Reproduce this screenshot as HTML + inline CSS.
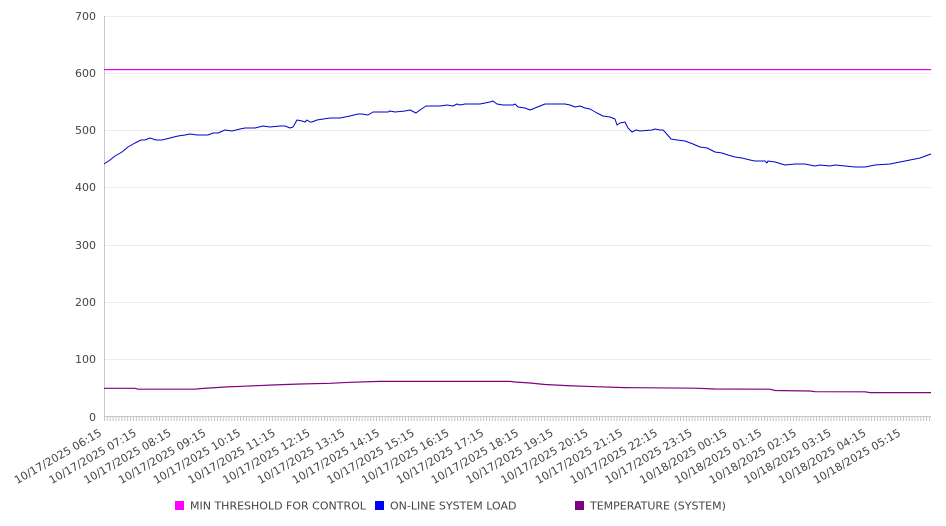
<!DOCTYPE html>
<html><head><meta charset="utf-8"><style>
html,body{margin:0;padding:0;background:#fff;}
svg{display:block;}
text{font-family:"DejaVu Sans","Liberation Sans",sans-serif;font-size:11px;fill:#444;}
</style></head><body>
<svg width="946" height="526" viewBox="0 0 946 526" xmlns="http://www.w3.org/2000/svg">
<defs>
<pattern id="tk" patternUnits="userSpaceOnUse" x="104" y="417" width="2.8947" height="4">
<rect x="0" y="0" width="1" height="4" fill="#c4c4c4"/>
</pattern>
</defs>
<g fill="#ebebeb">
<rect x="104" y="16" width="827" height="1"/>
<rect x="104" y="73" width="827" height="1"/>
<rect x="104" y="130" width="827" height="1"/>
<rect x="104" y="187" width="827" height="1"/>
<rect x="104" y="245" width="827" height="1"/>
<rect x="104" y="302" width="827" height="1"/>
<rect x="104" y="359" width="827" height="1"/>
</g>
<rect x="104" y="16" width="1" height="401" fill="#c8c8c8"/>
<rect x="104" y="416" width="827" height="1" fill="#c8c8c8"/>
<rect x="104" y="417" width="828" height="4" fill="url(#tk)"/>
<g text-anchor="end">
<text x="96" y="20">700</text>
<text x="96" y="77">600</text>
<text x="96" y="134">500</text>
<text x="96" y="191">400</text>
<text x="96" y="249">300</text>
<text x="96" y="306">200</text>
<text x="96" y="363">100</text>
<text x="96" y="421">0</text>
</g>
<g text-anchor="end">
<text transform="translate(102.5,435) rotate(-30)">10/17/2025 06:15</text>
<text transform="translate(137.2,435) rotate(-30)">10/17/2025 07:15</text>
<text transform="translate(172,435) rotate(-30)">10/17/2025 08:15</text>
<text transform="translate(206.7,435) rotate(-30)">10/17/2025 09:15</text>
<text transform="translate(241.5,435) rotate(-30)">10/17/2025 10:15</text>
<text transform="translate(276.2,435) rotate(-30)">10/17/2025 11:15</text>
<text transform="translate(310.9,435) rotate(-30)">10/17/2025 12:15</text>
<text transform="translate(345.7,435) rotate(-30)">10/17/2025 13:15</text>
<text transform="translate(380.4,435) rotate(-30)">10/17/2025 14:15</text>
<text transform="translate(415.2,435) rotate(-30)">10/17/2025 15:15</text>
<text transform="translate(449.9,435) rotate(-30)">10/17/2025 16:15</text>
<text transform="translate(484.6,435) rotate(-30)">10/17/2025 17:15</text>
<text transform="translate(519.4,435) rotate(-30)">10/17/2025 18:15</text>
<text transform="translate(554.1,435) rotate(-30)">10/17/2025 19:15</text>
<text transform="translate(588.9,435) rotate(-30)">10/17/2025 20:15</text>
<text transform="translate(623.6,435) rotate(-30)">10/17/2025 21:15</text>
<text transform="translate(658.3,435) rotate(-30)">10/17/2025 22:15</text>
<text transform="translate(693.1,435) rotate(-30)">10/17/2025 23:15</text>
<text transform="translate(727.8,435) rotate(-30)">10/18/2025 00:15</text>
<text transform="translate(762.6,435) rotate(-30)">10/18/2025 01:15</text>
<text transform="translate(797.3,435) rotate(-30)">10/18/2025 02:15</text>
<text transform="translate(832,435) rotate(-30)">10/18/2025 03:15</text>
<text transform="translate(866.8,435) rotate(-30)">10/18/2025 04:15</text>
<text transform="translate(901.5,435) rotate(-30)">10/18/2025 05:15</text>
</g>
<rect x="104" y="69" width="827" height="1.2" fill="#e600e6"/>
<polyline fill="none" stroke="#0000cc" stroke-width="1" stroke-linejoin="round" points="104,164 110,160 115,156 122,152 128,147 135,143 141,140 145,140 150,138 156,140 162,140 170,138 178,136 185,135 190,134 197,135 208,135 213,133 218,133 225,130 232,131 240,129 245,128 255,128 263,126 270,127 280,126 285,126 290,128 293,127 297,120 302,121 305,122 307,120 310,122 312,122 317,120 330,118 340,118 350,116 358,114 362,114 368,115 373,112 380,112 388,112 390,111 395,112 405,111 410,110 416,113 420,110 426,106 440,106 447,105 453,106 457,104 460,105 465,104 480,104 485,103 490,102 493,101 497,104 503,105 513,105 515,104 518,107 525,108 530,110 535,108 540,106 545,104 565,104 570,105 575,107 580,106 585,108 590,109 597,113 603,116 610,117 615,119 617,125 620,123 625,122 628,128 632,132 636,130 640,131 652,130 655,129 660,130 663,130 665,132 671,139 677,140 685,141 693,144 700,147 707,148 715,152 722,153 728,155 735,157 742,158 750,160 755,161 765,161 767,163 768,161 775,162 785,165 795,164 805,164 815,166 820,165 830,166 835,165 845,166 855,167 865,167 875,165 890,164 900,162 910,160 920,158 931,154"/>
<polyline fill="none" stroke="#800080" stroke-width="1.2" points="104,388.3 135,388.3 138,389.2 195,389.2 200,388.6 225,387 245,386.2 272,385 300,384 330,383.3 350,382.3 380,381.4 510,381.4 515,382 530,383 545,384.5 567,385.6 595,386.7 625,387.6 695,388.2 715,389 770,389.2 775,390.5 810,391 815,391.7 865,391.8 870,392.6 931,392.6"/>
<rect x="175" y="501" width="9" height="9" fill="#ff00ff"/>
<text x="190" y="509.5">MIN THRESHOLD FOR CONTROL</text>
<rect x="375" y="501" width="9" height="9" fill="#0000ff"/>
<text x="390" y="509.5">ON-LINE SYSTEM LOAD</text>
<rect x="575" y="501" width="9" height="9" fill="#800080"/>
<text x="590" y="509.5">TEMPERATURE (SYSTEM)</text>
</svg>
</body></html>
